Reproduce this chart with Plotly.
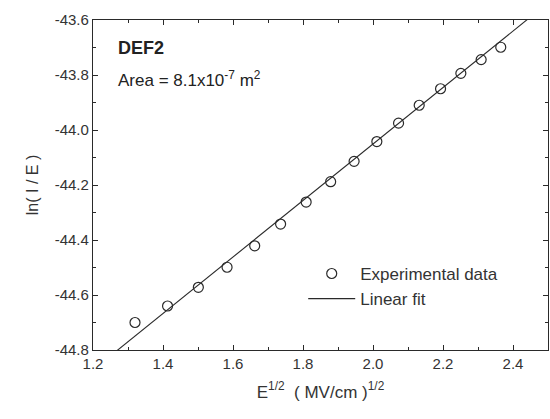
import plotly.graph_objects as go
import numpy as np

e_sqrt = [1.32, 1.413, 1.501, 1.583, 1.662, 1.736, 1.809, 1.879, 1.946, 2.011,
          2.073, 2.132, 2.193, 2.251, 2.309, 2.365]
ln_ie = [-44.70, -44.64, -44.572, -44.499, -44.421, -44.342, -44.262, -44.188,
         -44.114, -44.042, -43.975, -43.910, -43.850, -43.794, -43.744, -43.699]

# Linear fit parameters
fit_slope = 1.027
fit_intercept = -46.105
fit_x = [1.2, 2.5]

x_range = [1.2, 2.5]
y_range = [-44.8, -43.6]
x_ticks = [1.2, 1.4, 1.6, 1.8, 2.0, 2.2, 2.4]
y_ticks = [-44.8, -44.6, -44.4, -44.2, -44.0, -43.8, -43.6]

fit_y = [fit_slope * x + fit_intercept for x in fit_x]

ink = "#2a2a2a"
font = "Liberation Sans, Arial, sans-serif"

fig = go.Figure()
fig.add_trace(go.Scatter(
    x=e_sqrt, y=ln_ie, mode="markers", name="Experimental data",
    marker=dict(symbol="circle-open", size=10, color=ink, line=dict(width=1.2, color=ink)),
))
fig.add_trace(go.Scatter(
    x=fit_x, y=fit_y, mode="lines", name="Linear fit",
    line=dict(color=ink, width=1.1),
))

axis_common = dict(
    showgrid=False, zeroline=False, showline=True, linecolor=ink, linewidth=1.3,
    mirror="ticks", ticks="inside", ticklen=5, tickwidth=1, tickcolor=ink,
    tickfont=dict(family=font, size=15, color="#333"),
    minor=dict(ticks="inside", ticklen=3, tickwidth=1, tickcolor=ink),
)

fig.update_xaxes(range=x_range, tickvals=x_ticks, ticktext=[f"{v:.1f}" for v in x_ticks],
                 minor_dtick=0.1,
                 title=dict(text="E<sup>1/2</sup>  ( MV/cm )<sup>1/2</sup>",
                            font=dict(family=font, size=17, color="#333"), standoff=14),
                 **axis_common)
fig.update_yaxes(range=y_range, tickvals=y_ticks, ticktext=[f"{v:.1f}" for v in y_ticks],
                 minor_dtick=0.1,
                 title=dict(text="ln( I / E )", font=dict(family=font, size=16, color="#333"),
                            standoff=12),
                 **axis_common)

fig.add_annotation(x=0.05, y=0.915, xref="paper", yref="paper", xanchor="left", yanchor="middle",
                   text="<b>DEF2</b>", showarrow=False,
                   font=dict(family=font, size=18, color="#222"))
fig.add_annotation(x=0.05, y=0.82, xref="paper", yref="paper", xanchor="left", yanchor="middle",
                   text="Area = 8.1x10<sup>-7</sup> m<sup>2</sup>", showarrow=False,
                   font=dict(family=font, size=17, color="#222"))

fig.update_layout(
    width=550, height=419,
    margin=dict(l=93, r=2, t=20, b=69),
    paper_bgcolor="white", plot_bgcolor="white",
    showlegend=True,
    legend=dict(x=0.462, y=0.285, xanchor="left", yanchor="top",
                bgcolor="rgba(0,0,0,0)", itemwidth=47, tracegroupgap=0,
                font=dict(family=font, size=17, color="#333")),
)

fig.write_html("out.html")
